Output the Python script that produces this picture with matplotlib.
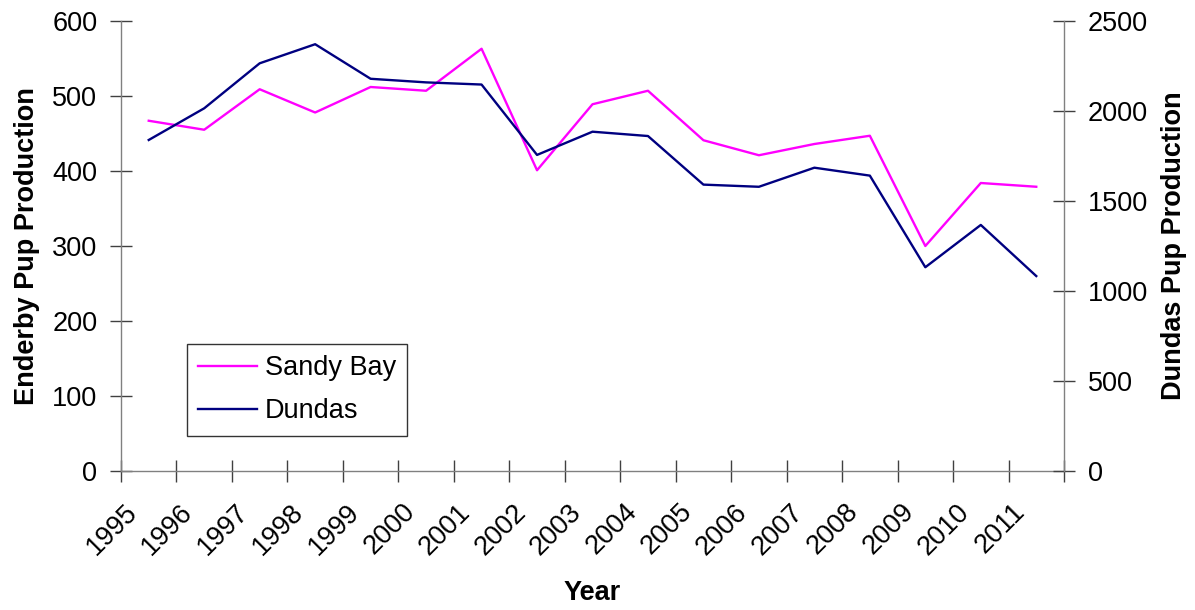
import numpy as np
import matplotlib.pyplot as plt
from matplotlib.transforms import ScaledTranslation

plt.rcParams['font.family'] = ['Liberation Sans', 'DejaVu Sans']

years = [str(y) for y in range(1995, 2012)]
sandy_bay = [467, 455, 509, 478, 512, 507, 563, 401, 489, 507, 441, 421, 436, 447, 300, 384, 379]
dundas = [1839, 2015, 2265, 2371, 2179, 2159, 2147, 1756, 1885, 1861, 1591, 1579, 1685, 1641, 1132, 1367, 1083]

left_ticks = [0, 100, 200, 300, 400, 500, 600]
right_ticks = [0, 500, 1000, 1500, 2000, 2500]

FS = 19.5
AXIS_GREY = '#808080'
TICK_GREY = '#404040'

fig = plt.figure(figsize=(11.95, 6.10), dpi=100)
ax = fig.add_axes([121 / 1195, 1 - 471 / 610, 943 / 1195, 450 / 610])
ax2 = ax.twinx()

x = np.arange(len(years))
l1, = ax.plot(x, sandy_bay, color='#ff00ff', lw=1.7, label='Sandy Bay')
l2, = ax2.plot(x, dundas, color='#000080', lw=1.7, label='Dundas')

ax.set_xlim(-0.5, len(years) - 0.5)
ax.set_ylim(0, 600)
ax2.set_ylim(0, 2500)
ax.set_yticks(left_ticks)
ax2.set_yticks(right_ticks)

# category labels sit at centres, tick marks at the boundaries between them
ax.set_xticks(x)
ax.set_xticklabels(years, rotation=45, ha='right', va='top', fontsize=FS)
ax.set_xticks(np.arange(len(years) + 1) - 0.5, minor=True)
ax.tick_params(axis='x', which='major', length=0, pad=20)
ax.tick_params(axis='x', which='minor', direction='inout', length=16, width=1, color=TICK_GREY)
shift = ScaledTranslation(-6 / 100, 0, fig.dpi_scale_trans)
for lab in ax.get_xticklabels():
    lab.set_transform(lab.get_transform() + shift)

ax.tick_params(axis='y', direction='inout', length=16, width=1, color=TICK_GREY,
               labelsize=FS, pad=9)
ax2.tick_params(axis='y', direction='inout', length=16, width=1, color=TICK_GREY,
                labelsize=FS, pad=9)

for a in (ax, ax2):
    a.spines['top'].set_visible(False)
    for s in ('left', 'bottom', 'right'):
        a.spines[s].set_color(AXIS_GREY)
        a.spines[s].set_linewidth(1)
ax.spines['right'].set_visible(False)
ax2.spines['left'].set_visible(False)
ax2.spines['bottom'].set_visible(False)

ax.set_ylabel('Enderby Pup Production', fontsize=FS, fontweight='bold')
ax.yaxis.label.set_va('center')
ax.yaxis.set_label_coords(-0.1, 0.5)
ax2.set_ylabel('Dundas Pup Production', fontsize=FS, fontweight='bold')
ax2.yaxis.label.set_va('center')
ax2.yaxis.set_label_coords(1.1165, 0.5)
ax.set_xlabel('Year', fontsize=FS, fontweight='bold')
ax.xaxis.label.set_va('center')
ax.xaxis.set_label_coords(0.5, -0.271)

leg = ax.legend(handles=[l1, l2], loc='upper left',
                bbox_to_anchor=(187 / 1195, 1 - 344 / 610), bbox_transform=fig.transFigure,
                fontsize=FS, frameon=True, fancybox=False, borderaxespad=0,
                handlelength=2.15, handletextpad=0.3, labelspacing=0.62, borderpad=0.42)
leg.get_frame().set_edgecolor('black')
leg.get_frame().set_linewidth(1)

fig.savefig('out.png', dpi=100)
